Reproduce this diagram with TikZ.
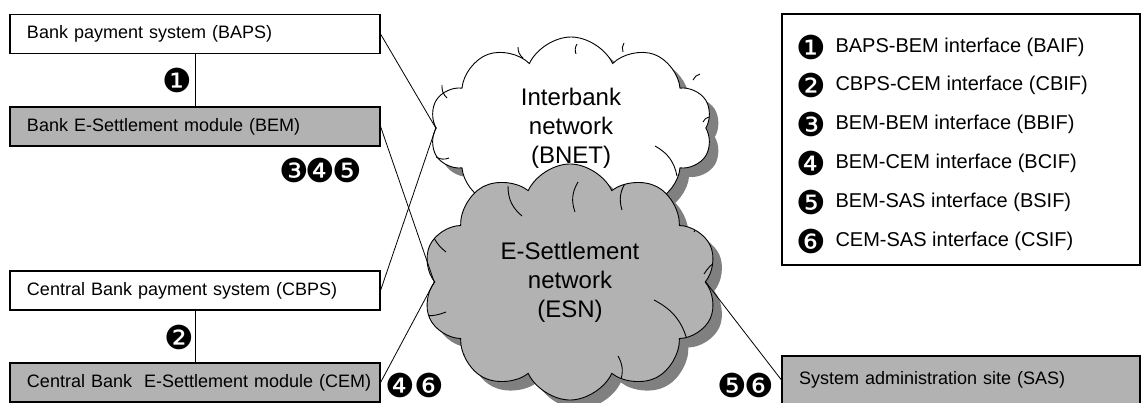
\documentclass[tikz,border=0pt]{standalone}
\usepackage{fontspec}
\setmainfont{Liberation Sans}
\newfontfamily\dingfont{DejaVu Sans}
\usetikzlibrary{shapes.symbols,shadows}
\def\puffarcs{-124/-30/-140/-62,-48/-66/-62/-96,5/-70/8/-100,52/-72/56/-100,124/-50/152/-70,134/-8/162/-26,84/18/118/62,48/74/50/100,-124/30/-162/28,-106/72/-124/92}
\def\bnetarcs{-124/-30/-129/-43,-48/-70/-53/-81,5/-74/6/-84,52/-76/53/-85,122/-48/129/-54,132/-6/138/-11,84/18/106/48,-122/30/-135/29}

\begin{document}
\begin{tikzpicture}[x=1pt,y=-1pt,
  sysbox/.style={draw,line width=1.1pt,minimum height=39pt,text width=352pt,inner xsep=9pt,align=left,
    execute at begin node={\hspace*{8pt}},font=\fontsize{18}{21}\selectfont},
  grey/.style={fill=black!30},
  netcloud/.style={cloud,cloud puffs=10,cloud puff arc=130,draw,fill=white,line width=0.9pt,align=center,font=\fontsize{24}{29}\selectfont,
    drop shadow={shadow xshift=9pt,shadow yshift=-9pt,fill=black!50,opacity=1}},
  num/.style={font=\dingfont\fontsize{33}{33}\selectfont,inner sep=0pt},
  link/.style={line width=0.8pt}]
\useasboundingbox (0,0) rectangle (1143,402);
% systems
\node[sysbox] (baps) at (195,34) {Bank payment system (BAPS)};
\node[sysbox,grey] (bem) at (195,126.5) {Bank E-Settlement module (BEM)};
\node[sysbox] (cbps) at (195,290.5) {Central Bank payment system (CBPS)};
\node[sysbox,grey] (cem) at (195,382.5) {\mbox{Central Bank\ \ E-Settlement module (CEM)}};
\node[sysbox,grey,text width=340pt,minimum height=48pt] (sas) at (961,380) {System administration site (SAS)};
% networks
\node[netcloud,minimum width=283pt,minimum height=182pt] (bnet) at (571,128) {Interbank\\network\\(BNET)};
\begin{scope}[shift={(bnet.center)}]
\foreach \ax/\ay/\bx/\by in \bnetarcs
  \draw[line width=0.9pt] (\ax,\ay) to[bend left=25] (\bx,\by);
\end{scope}
\node[netcloud,grey,minimum width=295pt,minimum height=170pt,
  path picture={\foreach \ax/\ay/\bx/\by in \puffarcs
    \draw[black,line width=0.9pt] ([shift={(\ax,\ay)}]path picture bounding box.center) to[bend left=25] ([shift={(\bx,\by)}]path picture bounding box.center);}]
  (esn) at (570,282) {E-Settlement\\network\\(ESN)};
% links
\draw[line width=0.8pt] (baps) -- (bem);
\draw[line width=0.8pt] (cbps) -- (cem);
\draw[link] (baps.east) -- (bnet.west);
\draw[link] (cbps.east) -- (bnet.west);
\draw[link] (bem.east) -- (esn.west);
\draw[link] (cem.east) -- (esn.west);
\draw[link] (esn.east) -- (sas.west);
% interface numbers
\node[num] (n1) at (177,80) {❶};
\node[num] (n2) at (179,337) {❷};
\node[num] (n3) at (294,170) {❸};
\node[num] (n4) at (320,170) {❹};
\node[num] (n5) at (347,170) {❺};
\node[num] (m4) at (400,385) {❹};
\node[num] (m6) at (429,385) {❻};
\node[num] (s5) at (732,385) {❺};
\node[num] (s6) at (759,385) {❻};
% legend
\node[draw,line width=1.1pt,minimum width=358pt,minimum height=251pt] (legend) at (961,139.5) {};
\foreach \d/\t [count=\i] in {❶/BAPS-BEM interface (BAIF),❷/CBPS-CEM interface (CBIF),❸/BEM-BEM interface (BBIF),
  ❹/BEM-CEM interface (BCIF),❺/BEM-SAS interface (BSIF),❻/CEM-SAS interface (CSIF)}{
  \node[num] (k\i) at (811,{47+(\i-1)*38.8}) {\d};
  \node[anchor=west,font=\fontsize{20}{24}\selectfont] (t\i) at (832,{47+(\i-1)*38.8}) {\t};
}
\end{tikzpicture}
\end{document}
